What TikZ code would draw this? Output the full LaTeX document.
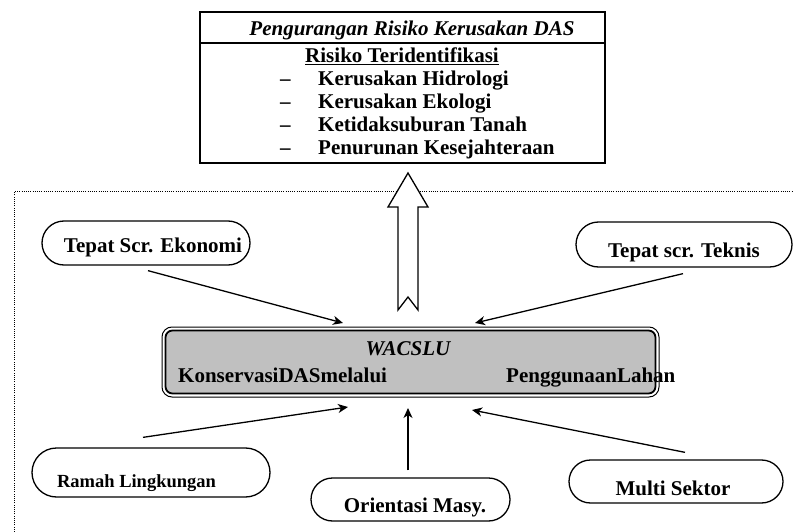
\documentclass[tikz,border=0pt]{standalone}
\usepackage{fontspec}
\setmainfont{Liberation Serif}
\usetikzlibrary{arrows.meta,shapes.misc}
\definecolor{boxgray}{RGB}{192,192,192}
\begin{document}
\begin{tikzpicture}[x=1pt,y=-1pt,
  txt/.style={font=\fontsize{21}{23}\selectfont\bfseries, inner sep=0},
  ttl/.style={font=\fontsize{21}{23}\selectfont\bfseries\itshape, inner sep=0},
  pill/.style={rounded rectangle, draw, line width=1.3pt, inner sep=0},
  pilltext/.style={txt, anchor=base},
  link/.style={-{Stealth[length=10pt,width=9pt,inset=3pt]}, line width=1.3pt},
  frame/.style={line width=1pt, dash pattern=on 1pt off 1.2pt},
  ]
\useasboundingbox (0,0) rectangle (793,532);

% dotted frame around the lower part
\draw[frame] (14,532) -- (14,192) -- (793,192);

% risk box
\node[draw, line width=1.5pt, minimum width=405pt, minimum height=151pt, inner sep=0] (risk) at (402.5,87.5) {};
\coordinate (divy) at (0,43);
\draw[line width=1.3pt] (risk.west |- divy) -- (risk.east |- divy);
\node[ttl, anchor=base] (title) at (412,36) {Pengurangan Risiko Kerusakan DAS};
\node[txt, anchor=base] (head) at (402,63) {\underline{Risiko Teridentifikasi}};
\foreach \i/\t [count=\k] in {86/Kerusakan Hidrologi, 109/Kerusakan Ekologi, 132/Ketidaksuburan Tanah, 155/Penurunan Kesejahteraan}{
  \node[txt, anchor=base west] (dash\k) at (280,\i) {--};
  \node[txt, anchor=base west] (item\k) at (318,\i) {\t};
}

% hollow notched arrow up to the risk box
\draw[line width=1.3pt, fill=white] (408,173) -- (428,207) -- (418,207) -- (418,310) -- (408,297)
  -- (398,310) -- (398,207) -- (388,207) -- cycle;

% central WACSLU box with double border
\node[draw, rounded corners=10pt, line width=1pt, minimum width=497pt, minimum height=70pt, inner sep=0] (wac) at (410.5,362) {};
\draw[line width=1.8pt, fill=boxgray, rounded corners=7pt]
  ([shift={(4,4)}]wac.north west) rectangle ([shift={(-4,-4)}]wac.south east);
\node[ttl, anchor=base] (wtitle) at (408,355) {WACSLU};
\node[txt, anchor=base west] (kons) at (178,382) {KonservasiDASmelalui};
\node[txt, anchor=base west] (guna) at (506,382) {PenggunaanLahan};

% surrounding criteria
\node[pill, minimum width=208pt, minimum height=44pt,
  label={[pilltext, name=ekoT, xshift=7pt, yshift=-4pt]center:Tepat Scr. Ekonomi}] (eko) at (146,243) {};
\node[pill, minimum width=216pt, minimum height=45pt,
  label={[pilltext, name=tekT, yshift=-7.5pt]center:Tepat scr. Teknis}] (tek) at (684,244.5) {};
\node[pill, minimum width=238pt, minimum height=49pt,
  label={[pilltext, name=ramT, font=\fontsize{18.5}{20}\selectfont\bfseries, xshift=-14.5pt, yshift=-10.5pt]center:Ramah Lingkungan}] (ram) at (151,472.5) {};
\node[pill, minimum width=199pt, minimum height=43pt,
  label={[pilltext, name=oriT, xshift=4.5pt, yshift=-7.5pt]center:Orientasi Masy.}] (ori) at (410.5,499.5) {};
\node[pill, minimum width=214pt, minimum height=43pt,
  label={[pilltext, name=mulT, xshift=-3pt, yshift=-6.5pt]center:Multi Sektor}] (mul) at (676,481.5) {};

% arrow tips near the central box
\coordinate (tEko) at (343,323);
\coordinate (tTek) at (475,323);
\coordinate (tRam) at (348,407);
\coordinate (tOri) at (408,408);
\coordinate (tMul) at (472,410);

\draw[link] ([shift={(2,5)}]eko.south) -- (tEko);
\draw[link] ([shift={(-1,6)}]tek.south) -- (tTek);
\draw[link] ([shift={(-8,-10)}]ram.north) -- (tRam);
\draw[link] ([shift={(-2.5,-7)}]ori.north) -- (tOri);
\draw[link] ([shift={(9,-7)}]mul.north) -- (tMul);
\end{tikzpicture}
\end{document}
